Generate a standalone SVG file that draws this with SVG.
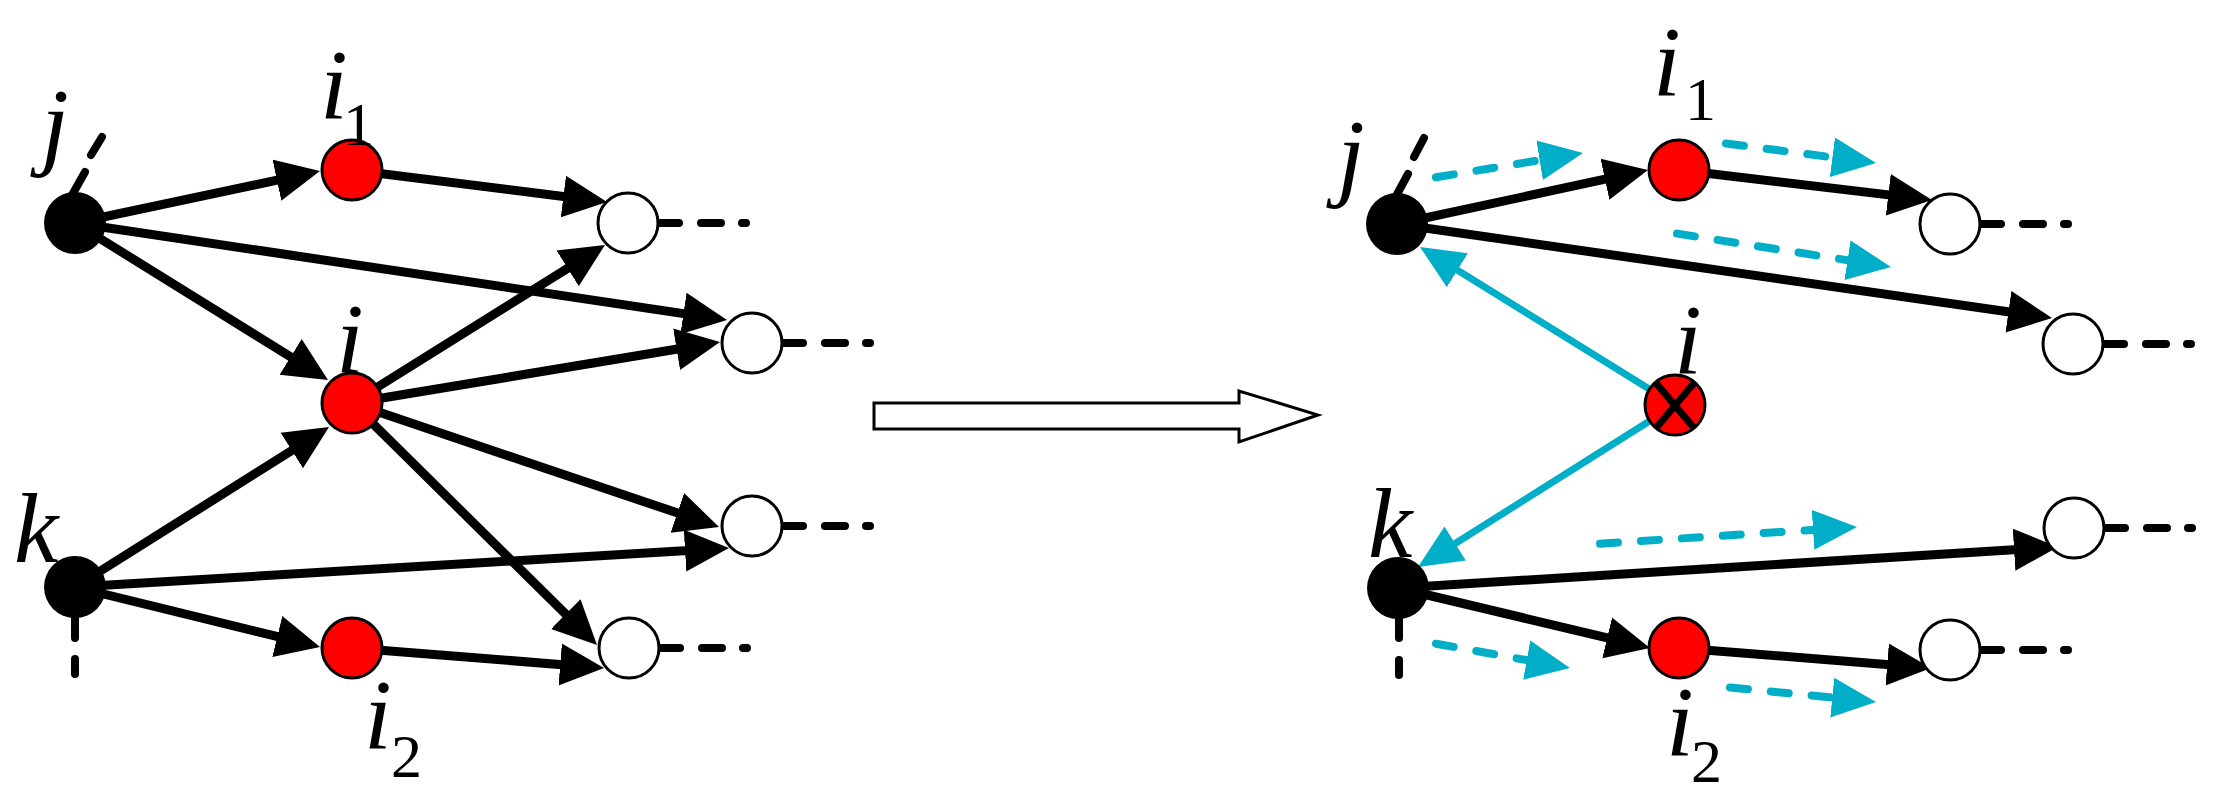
<svg xmlns="http://www.w3.org/2000/svg" width="2226" height="802" viewBox="0 0 2226 802">
<style>
.e{stroke:#000;stroke-width:9;fill:none;marker-end:url(#ah)}
.c{stroke:#00AEC7;stroke-width:7;fill:none;marker-end:url(#ahc)}
.cd{stroke:#00AEC7;stroke-width:8;fill:none;stroke-linecap:round;stroke-dasharray:18 23;marker-end:url(#ahc)}
.st{stroke:#000;stroke-width:8;stroke-linecap:round;fill:none}
.red{fill:#f00;stroke:#000;stroke-width:3}
.wh{fill:#fff;stroke:#000;stroke-width:3}
.bk{fill:#000}
.lbl{font-family:"Liberation Serif","Times New Roman",serif;font-style:italic;font-size:100px;fill:#000}
.sub{font-family:"Liberation Serif","Times New Roman",serif;font-size:62px;fill:#000}
.x{stroke:#000;stroke-width:7}
</style>
<defs>
<marker id="ah" viewBox="0 0 44 44" refX="24" refY="22" markerWidth="44" markerHeight="44" markerUnits="userSpaceOnUse" orient="auto"><path d="M0,1 L44,22 L0,43 z" fill="#000"/></marker>
<marker id="ahc" viewBox="0 0 44 44" refX="24" refY="22" markerWidth="44" markerHeight="44" markerUnits="userSpaceOnUse" orient="auto"><path d="M0,2 L44,22 L0,42 z" fill="#00AEC7"/></marker>
</defs>
<g id="connectors">
<line class="e" x1="75" y1="223" x2="300.4" y2="175.2"/>
<line class="e" x1="352" y1="170" x2="587.2" y2="199.5"/>
<line class="e" x1="75" y1="223" x2="707.2" y2="317.1"/>
<line class="e" x1="75" y1="223" x2="311.0" y2="369.5"/>
<line class="e" x1="352" y1="403" x2="588.0" y2="255.6"/>
<line class="e" x1="352" y1="403" x2="700.3" y2="345.3"/>
<line class="e" x1="352" y1="403" x2="700.1" y2="520.6"/>
<line class="e" x1="352" y1="403" x2="582.8" y2="631.0"/>
<line class="e" x1="75" y1="587" x2="312.1" y2="437.7"/>
<line class="e" x1="75" y1="587" x2="709.0" y2="549.2"/>
<line class="e" x1="75" y1="587" x2="300.6" y2="642.2"/>
<line class="e" x1="352" y1="648" x2="584.1" y2="666.4"/>
<path class="st" d="M71,197 L85,172 M91,155 L102,137"/>
<path class="st" d="M75,600 V638 M75,659 V674"/>
<path class="st" d="M650,223 H679 M701,223 H721 M742,223 H746"/>
<path class="st" d="M774,343 H803 M825,343 H845 M866,343 H870"/>
<path class="st" d="M774,526 H803 M825,526 H845 M866,526 H870"/>
<path class="st" d="M651,648 H680 M702,648 H722 M743,648 H747"/>
<line class="e" x1="1397" y1="224" x2="1628.4" y2="174.2"/>
<line class="e" x1="1679" y1="170" x2="1912.1" y2="197.6"/>
<line class="e" x1="1397" y1="224" x2="2032.2" y2="315.2"/>
<line class="e" x1="1398" y1="588" x2="2038.0" y2="548.2"/>
<line class="e" x1="1398" y1="588" x2="1630.5" y2="643.4"/>
<line class="e" x1="1679" y1="648" x2="1911.1" y2="666.4"/>
<path class="st" d="M1395,198 L1408,174 M1414,157 L1424,138"/>
<path class="st" d="M1399,601 V638 M1399,660 V675"/>
<path class="st" d="M1972,224 H2001 M2023,224 H2043 M2064,224 H2068"/>
<path class="st" d="M2095,344 H2124 M2146,344 H2166 M2187,344 H2191"/>
<path class="st" d="M2096,528 H2125 M2147,528 H2167 M2188,528 H2192"/>
<path class="st" d="M1972,650 H2001 M2023,650 H2043 M2064,650 H2068"/>
<line class="c" x1="1675" y1="405" x2="1437.0" y2="257.5"/>
<line class="c" x1="1675" y1="405" x2="1434.9" y2="556.3"/>
<line class="cd" x1="1436" y1="177.3" x2="1563.3" y2="156.3"/>
<line class="cd" x1="1726" y1="143.5" x2="1856.2" y2="160.4"/>
<line class="cd" x1="1677" y1="233.6" x2="1871.2" y2="263.9"/>
<line class="cd" x1="1600" y1="543.7" x2="1837.0" y2="528.3"/>
<line class="cd" x1="1436" y1="643.7" x2="1550.3" y2="664.4"/>
<line class="cd" x1="1730" y1="687.4" x2="1856.1" y2="700.0"/>
</g>
<g id="transform-arrow">
<polygon points="874,403 1239,403 1239,391 1318,415 1239,442 1239,429 874,429" fill="#fff" stroke="#000" stroke-width="3"/>
</g>
<g id="nodes-left">
<g id="L-j"><circle class="bk" cx="75" cy="223" r="31"/><text class="lbl" x="41" y="157">j</text></g>
<g id="L-i1"><circle class="red" cx="352" cy="170" r="30"/><text class="lbl" x="320" y="118">i</text><text class="sub" x="343" y="145">1</text></g>
<g id="L-i"><circle class="red" cx="352" cy="403" r="30"/><text class="lbl" x="336" y="372">i</text></g>
<g id="L-k"><circle class="bk" cx="75" cy="587" r="31"/><text class="lbl" x="14" y="562">k</text></g>
<g id="L-i2"><circle class="red" cx="352" cy="648" r="30"/><text class="lbl" x="364" y="748">i</text><text class="sub" x="391" y="777">2</text></g>
<g id="L-w1"><circle class="wh" cx="628" cy="223" r="30"/></g>
<g id="L-w2"><circle class="wh" cx="752" cy="343" r="30"/></g>
<g id="L-w3"><circle class="wh" cx="752" cy="526" r="30"/></g>
<g id="L-w4"><circle class="wh" cx="629" cy="648" r="30"/></g>
</g>
<g id="nodes-right">
<g id="R-j"><circle class="bk" cx="1397" cy="224" r="31"/><text class="lbl" x="1337" y="188">j</text></g>
<g id="R-i1"><circle class="red" cx="1679" cy="170" r="30"/><text class="lbl" x="1653" y="95">i</text><text class="sub" x="1685" y="120">1</text></g>
<g id="R-i"><circle class="red" cx="1675" cy="405" r="30"/><line class="x" x1="1656" y1="383" x2="1694" y2="428"/><line class="x" x1="1694" y1="383" x2="1656" y2="428"/><text class="lbl" x="1674" y="373">i</text></g>
<g id="R-k"><circle class="bk" cx="1398" cy="588" r="31"/><text class="lbl" x="1368" y="557">k</text></g>
<g id="R-i2"><circle class="red" cx="1679" cy="648" r="30"/><text class="lbl" x="1666" y="755">i</text><text class="sub" x="1691" y="782">2</text></g>
<g id="R-w1"><circle class="wh" cx="1950" cy="224" r="30"/></g>
<g id="R-w2"><circle class="wh" cx="2073" cy="344" r="30"/></g>
<g id="R-w3"><circle class="wh" cx="2074" cy="528" r="30"/></g>
<g id="R-w4"><circle class="wh" cx="1950" cy="650" r="30"/></g>
</g>
</svg>
